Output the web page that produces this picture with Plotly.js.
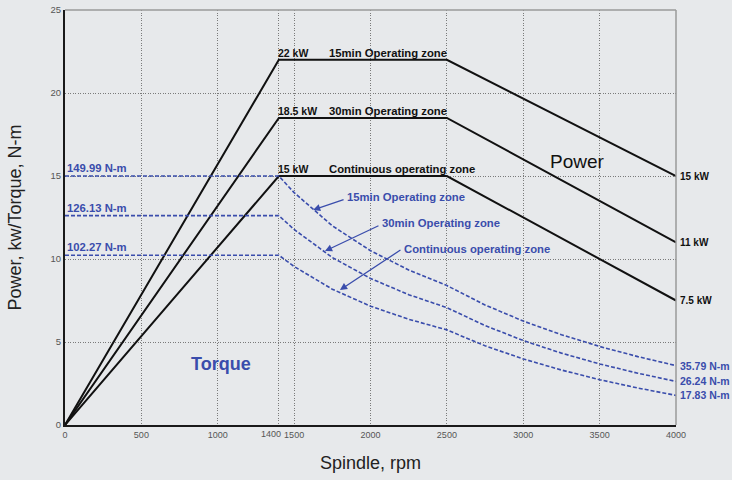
<!DOCTYPE html>
<html>
<head>
<meta charset="utf-8">
<script src="https://cdn.plot.ly/plotly-3.0.1.min.js"></script>
<style>html,body{margin:0;padding:0;background:#e7e9eb;}#chart{width:732px;height:480px;}</style>
</head>
<body>
<div id="chart"></div>
<script>
// ---- data ----
const rpmPower = [0, 1400, 2500, 4000];
const power15min = [0, 22, 22, 15];          // kW
const power30min = [0, 18.5, 18.5, 11];      // kW
const powerCont = [0, 15, 15, 7.5];          // kW

const rpmTorque = [0, 1400, 1500, 1750, 2000, 2250, 2500, 2750, 3000, 3250, 3500, 3750, 4000];
const torque15min = [149.99, 149.99, 140.0, 120.0, 105.0, 93.4, 84.0, 72.3, 62.6, 54.4, 47.3, 41.2, 35.79]; // N-m
const torque30min = [126.13, 126.13, 117.8, 100.9, 88.3, 78.5, 70.7, 59.9, 50.9, 43.3, 36.8, 31.2, 26.24];
const torqueCont = [102.27, 102.27, 95.5, 81.8, 71.6, 63.7, 57.3, 47.7, 39.8, 33.1, 27.3, 22.3, 17.83];

const xTickVals = [0, 500, 1000, 1400, 1500, 2000, 2500, 3000, 3500, 4000];
const xTickText = ['0', '500', '1000', '1400', '1500', '2000', '2500', '3000', '3500', '4000'];
const yTickVals = [0, 5, 10, 15, 20, 25];

const powerLabels = ['22 kW', '18.5 kW', '15 kW'];
const zoneLabels = ['15min Operating zone', '30min Operating zone', 'Continuous operating zone'];
const powerEndLabels = ['15 kW', '11 kW', '7.5 kW'];
const torqueStartLabels = ['149.99 N-m', '126.13 N-m', '102.27 N-m'];
const torqueEndLabels = ['35.79 N-m', '26.24 N-m', '17.83 N-m'];

const BLUE = '#3a4dac';
const BLACK = '#111111';
const FONT = 'Liberation Sans, Arial, sans-serif';
const TICKFONT = {family: FONT, size: 9, color: '#555'};

const powers = [power15min, power30min, powerCont];
const torques = [torque15min, torque30min, torqueCont];

const traces = [];
powers.forEach(p => traces.push({
  x: rpmPower, y: p, type: 'scatter', mode: 'lines',
  line: {color: BLACK, width: 2}, hoverinfo: 'skip', showlegend: false
}));
torques.forEach(t => traces.push({
  x: rpmTorque, y: t, yaxis: 'y2', type: 'scatter', mode: 'lines',
  line: {color: BLUE, width: 1.6, dash: '4px,2px'},
  hoverinfo: 'skip', showlegend: false
}));

// the crowded 1400 tick label is drawn right-aligned beside its gridline
const crowdedIdx = xTickVals.indexOf(1400);
const shownTickText = xTickText.map((t, i) => i === crowdedIdx ? '' : t);

const ann = [];
ann.push({x: xTickVals[crowdedIdx], y: 0, xref: 'x', yref: 'paper', text: xTickText[crowdedIdx],
  showarrow: false, xanchor: 'right', yanchor: 'top', xshift: 3, yshift: -3, borderpad: 0,
  font: TICKFONT});
powers.forEach((p, i) => {
  ann.push({x: rpmPower[1], y: p[1], xref: 'x', yref: 'y', text: '<b>' + powerLabels[i] + '</b>',
    showarrow: false, xanchor: 'left', yanchor: 'bottom', xshift: -3, yshift: -1,
    font: {family: FONT, size: 10.5, color: BLACK}});
  ann.push({x: 1712, y: p[2], xref: 'x', yref: 'y', text: '<b>' + zoneLabels[i] + '</b>',
    showarrow: false, xanchor: 'left', yanchor: 'bottom', yshift: -1,
    font: {family: FONT, size: 11.3, color: BLACK}});
  ann.push({x: rpmPower[3], y: p[3], xref: 'x', yref: 'y', text: '<b>' + powerEndLabels[i] + '</b>',
    showarrow: false, xanchor: 'left', yanchor: 'middle', xshift: 2,
    font: {family: FONT, size: 10, color: BLACK}});
});
torques.forEach((t, i) => {
  ann.push({x: rpmTorque[0], y: t[0], xref: 'x', yref: 'y2', text: '<b>' + torqueStartLabels[i] + '</b>',
    showarrow: false, xanchor: 'left', yanchor: 'bottom', xshift: 0, yshift: 0,
    font: {family: FONT, size: 11.3, color: BLUE}});
  ann.push({x: rpmTorque[rpmTorque.length - 1], y: t[t.length - 1], xref: 'x', yref: 'y2',
    text: '<b>' + torqueEndLabels[i] + '</b>',
    showarrow: false, xanchor: 'left', yanchor: 'middle', xshift: 2,
    font: {family: FONT, size: 10.5, color: BLUE}});
});
const arrowHeads = [[1624, 129.5], [1702, 104.8], [1800, 81.3]];
const arrowTails = [[32, -11], [55, -26], [62, -41]];
const arrowTextPos = [[1830, 137.3], [2065, 121.7], [2203, 106.0]];
arrowHeads.forEach((h, i) => {
  ann.push({x: h[0], y: h[1], xref: 'x', yref: 'y2', text: '', showarrow: true,
    ax: arrowTails[i][0], ay: arrowTails[i][1], arrowhead: 2, arrowsize: 1.1, arrowwidth: 1.3,
    arrowcolor: BLUE, standoff: 0, startstandoff: 0});
  ann.push({x: arrowTextPos[i][0], y: arrowTextPos[i][1], xref: 'x', yref: 'y2',
    text: '<b>' + zoneLabels[i] + '</b>', showarrow: false, xanchor: 'left', yanchor: 'middle',
    font: {family: FONT, size: 11.3, color: BLUE}});
});
ann.push({x: 3358, y: 15.9, xref: 'x', yref: 'y', text: 'Power', showarrow: false,
  font: {family: FONT, size: 19, color: BLACK}});
ann.push({x: 1024, y: 3.68, xref: 'x', yref: 'y', text: '<b>Torque</b>', showarrow: false,
  font: {family: FONT, size: 18, color: BLUE}});

const layout = {
  width: 732, height: 480,
  margin: {l: 65, r: 56, t: 10, b: 55},
  paper_bgcolor: '#e7e9eb', plot_bgcolor: '#e7e9eb',
  showlegend: false,
  xaxis: {
    range: [0, 4000], tickvals: xTickVals, ticktext: shownTickText, ticks: '', tickangle: 0,
    showgrid: true, gridcolor: '#7a7a7a', gridwidth: 1, griddash: '1px,1.5px', zeroline: false,
    showline: true, linecolor: '#1a1a1a', linewidth: 2,
    tickfont: TICKFONT,
    title: {text: 'Spindle, rpm', font: {family: FONT, size: 18, color: '#222'}, standoff: 18},
    automargin: false, fixedrange: true
  },
  yaxis: {
    range: [0, 25], tickvals: yTickVals, ticks: '',
    showgrid: true, gridcolor: '#7a7a7a', gridwidth: 1, griddash: '1px,1.5px', zeroline: false,
    showline: true, linecolor: '#1a1a1a', linewidth: 2,
    tickfont: {family: FONT, size: 9.5, color: '#555'},
    title: {text: 'Power, kw/Torque, N-m', font: {family: FONT, size: 18, color: '#222'}, standoff: 24},
    automargin: false, fixedrange: true
  },
  yaxis2: {
    range: [0, 250], overlaying: 'y', side: 'right', visible: false, showgrid: false, zeroline: false,
    fixedrange: true
  },
  shapes: [
    {type: 'line', xref: 'paper', yref: 'paper', x0: 0, x1: 1, y0: 1, y1: 1, line: {color: '#9a9a9a', width: 1.5}},
    {type: 'line', xref: 'paper', yref: 'paper', x0: 1, x1: 1, y0: 0, y1: 1, line: {color: '#9a9a9a', width: 1.5}}
  ],
  annotations: ann
};

Plotly.newPlot('chart', traces, layout, {displayModeBar: false, staticPlot: true});
</script>
</body>
</html>
